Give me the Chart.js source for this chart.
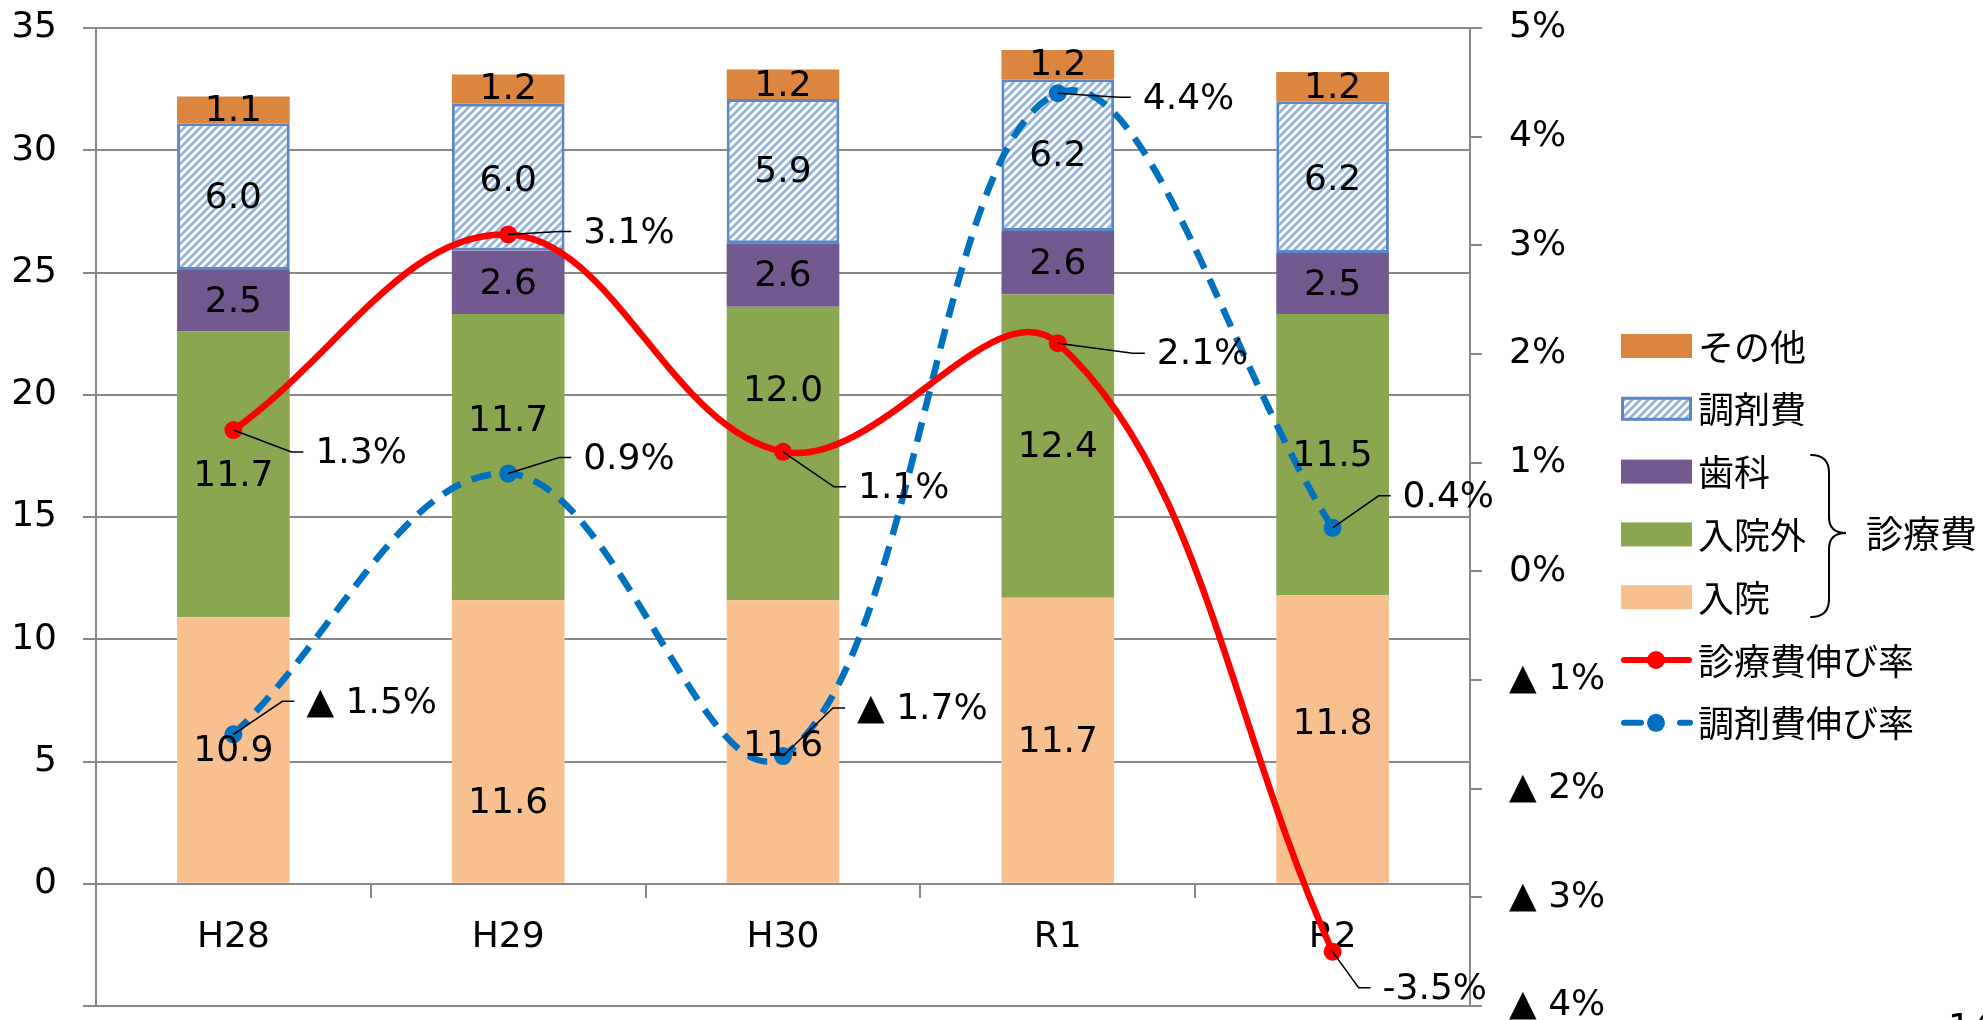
<!DOCTYPE html>
<html>
<head>
<meta charset="utf-8">
<script src="https://cdn.jsdelivr.net/npm/chart.js@4/dist/chart.umd.min.js"></script>
<style>
  html, body { margin: 0; padding: 0; background: #fff; }
  #wrap { width: 1983px; height: 1020px; position: relative; }
</style>
</head>
<body>
<div id="wrap"><canvas id="c" width="1983" height="1020"></canvas></div>
<script>
// 年度
const years = ['H28', 'H29', 'H30', 'R1', 'R2'];

// 医療費の内訳（兆円）
const nyuin    = [10.9, 11.6, 11.6, 11.7, 11.8];   // 入院
const nyuingai = [11.7, 11.7, 12.0, 12.4, 11.5];   // 入院外
const shika    = [2.5, 2.6, 2.6, 2.6, 2.5];        // 歯科
const chozai   = [6.0, 6.0, 5.9, 6.2, 6.2];        // 調剤費
const sonota   = [1.1, 1.2, 1.2, 1.2, 1.2];        // その他

// 伸び率（％）
const shinryoRate = [1.3, 3.1, 1.1, 2.1, -3.5];    // 診療費伸び率
const chozaiRate  = [-1.5, 0.9, -1.7, 4.4, 0.4];   // 調剤費伸び率

// 軸の範囲
const amountAxis = { min: -5, max: 35, step: 5 };
const rateAxis   = { min: -4, max: 5, step: 1 };

// ---- styles -------------------------------------------------------------
const NUM_FONT = '36px "DejaVu Sans", "Noto Sans CJK JP", sans-serif';
const JP_FONT  = '36px "Noto Sans CJK JP", "DejaVu Sans", sans-serif';
const GRID = '#898989';

// vertical nudges (px) for the stacked segment labels, per series
const segNudge = [
  [2, 62, 5, 2, -14],   // 入院
  [2, -35, -62, 2, 2],  // 入院外
  [2, 2, 2, 2, 2],      // 歯科
  [2, 4, 2, 2, 3],      // 調剤費
  [2, 1, 2, 1, 2]       // その他
];
// label placement for rate points: [dx to text start, dy to text centre]
const rateLabelPos = [
  [[82, 22], [75, -3], [75, 35], [99, 10], [50, 36]],
  [[73, -33], [75, -16], [74, -48], [85, 4], [70, -32]]
];
// which points print a minus sign instead of the triangle mark
const minusNotation = [[4], []];

function hatchPattern() {
  const c = document.createElement('canvas');
  c.width = 8; c.height = 8;
  const g = c.getContext('2d');
  g.fillStyle = '#ffffff';
  g.fillRect(0, 0, 8, 8);
  g.strokeStyle = '#96B4DC';
  g.lineWidth = 2.8;
  g.beginPath();
  g.moveTo(-2, 10); g.lineTo(10, -2);
  g.moveTo(-2, 2); g.lineTo(2, -2);
  g.moveTo(6, 10); g.lineTo(10, 6);
  g.stroke();
  return g.createPattern(c, 'repeat');
}
const hatch = hatchPattern();

function rateText(v, series, idx) {
  if (v < 0) {
    return minusNotation[series].includes(idx) ? '-' + Math.abs(v).toFixed(1) + '%'
                                              : '▲ ' + Math.abs(v).toFixed(1) + '%';
  }
  return v.toFixed(1) + '%';
}

// data labels inside the bars and beside the rate points
const labelPlugin = {
  id: 'valueLabels',
  afterDatasetsDraw(chart) {
    const ctx = chart.ctx;
    ctx.save();
    ctx.fillStyle = '#000';
    ctx.font = NUM_FONT;
    ctx.textAlign = 'center';
    ctx.textBaseline = 'middle';
    for (let d = 0; d < 5; d++) {
      const meta = chart.getDatasetMeta(d);
      const vals = chart.data.datasets[d].data;
      meta.data.forEach((el, i) => {
        const cy = (el.y + el.base) / 2 + segNudge[d][i];
        ctx.fillText(vals[i].toFixed(1), el.x, cy);
      });
    }
    ctx.textAlign = 'left';
    for (let s = 0; s < 2; s++) {
      const d = 5 + s;
      const meta = chart.getDatasetMeta(d);
      const vals = chart.data.datasets[d].data;
      meta.data.forEach((el, i) => {
        const [dx, dy] = rateLabelPos[s][i];
        const tx = el.x + dx, ty = el.y + dy;
        ctx.strokeStyle = '#000';
        ctx.lineWidth = 1.5;
        ctx.beginPath();
        ctx.moveTo(el.x, el.y);
        ctx.lineTo(tx - 24, ty);
        ctx.lineTo(tx - 12, ty);
        ctx.stroke();
        ctx.fillText(rateText(vals[i], s, i), tx, ty + 2);
      });
    }
    ctx.restore();
  }
};

// legend with the brace grouping the 診療費 items
const legendPlugin = {
  id: 'sideLegend',
  afterDraw(chart) {
    const ctx = chart.ctx;
    const ds = chart.data.datasets;
    const order = [4, 3, 2, 1, 0, 5, 6];
    const x0 = 1621, w = 71, top = 346, step = 62.8;
    ctx.save();
    order.forEach((d, k) => {
      const set = ds[d];
      const cy = top + k * step;
      if (set.type === 'line') {
        ctx.strokeStyle = set.borderColor;
        ctx.lineWidth = 6;
        ctx.lineCap = 'round';
        ctx.setLineDash([]);
        ctx.beginPath();
        if (set.borderDash) {
          ctx.moveTo(x0 + 3, cy); ctx.lineTo(x0 + 20, cy);
          ctx.moveTo(x0 + 59, cy); ctx.lineTo(x0 + 69, cy);
        } else {
          ctx.moveTo(x0 + 3, cy); ctx.lineTo(x0 + w - 3, cy);
        }
        ctx.stroke();
        ctx.fillStyle = set.pointBackgroundColor;
        ctx.beginPath();
        ctx.arc(x0 + 35, cy, 9, 0, Math.PI * 2);
        ctx.fill();
      } else {
        ctx.fillStyle = set.backgroundColor;
        ctx.fillRect(x0, cy - 12, w, 24);
        if (set.borderWidth) {
          ctx.strokeStyle = set.borderColor;
          ctx.lineWidth = 3;
          ctx.strokeRect(x0 + 1.5, cy - 10.5, w - 3, 21);
        }
      }
      ctx.fillStyle = '#000';
      ctx.font = JP_FONT;
      ctx.textAlign = 'left';
      ctx.textBaseline = 'middle';
      ctx.fillText(set.label, 1698, cy + 1);
    });
    // brace
    ctx.strokeStyle = '#000';
    ctx.lineWidth = 2;
    ctx.setLineDash([]);
    ctx.beginPath();
    ctx.moveTo(1811, 455);
    ctx.quadraticCurveTo(1829, 455, 1829, 473);
    ctx.lineTo(1829, 517);
    ctx.quadraticCurveTo(1829, 533, 1846, 533);
    ctx.quadraticCurveTo(1829, 533, 1829, 549);
    ctx.lineTo(1829, 599);
    ctx.quadraticCurveTo(1829, 617, 1811, 617);
    ctx.stroke();
    ctx.fillStyle = '#000';
    ctx.font = '37px "Noto Sans CJK JP", sans-serif';
    ctx.textBaseline = 'middle';
    ctx.fillText('診療費', 1866, 534);
    // page number
    ctx.font = NUM_FONT;
    ctx.textBaseline = 'top';
    ctx.fillText('14', 1948, 1012);
    ctx.restore();
  }
};

const barBase = { type: 'bar', order: 1, borderWidth: 0, categoryPercentage: 1, barPercentage: 0.41 };

new Chart(document.getElementById('c'), {
  data: {
    labels: years,
    datasets: [
      { ...barBase, label: '入院',   data: nyuin,    backgroundColor: '#F9C08F' },
      { ...barBase, label: '入院外', data: nyuingai, backgroundColor: '#8AA650' },
      { ...barBase, label: '歯科',   data: shika,    backgroundColor: '#725A90' },
      { ...barBase, label: '調剤費', data: chozai,   backgroundColor: hatch,
        borderColor: '#5A87C4', borderWidth: 3, borderSkipped: false },
      { ...barBase, label: 'その他', data: sonota,   backgroundColor: '#DC853F' },
      { type: 'line', label: '診療費伸び率', data: shinryoRate, yAxisID: 'y1', order: 0,
        borderColor: '#FF0000', borderWidth: 6.5, tension: 0.38,
        pointRadius: 9, pointBackgroundColor: '#FF0000', pointBorderWidth: 0 },
      { type: 'line', label: '調剤費伸び率', data: chozaiRate, yAxisID: 'y1', order: 0,
        borderColor: '#0070C0', borderWidth: 6.5, borderDash: [20, 12], tension: 0.38,
        pointRadius: 9, pointBackgroundColor: '#0070C0', pointBorderWidth: 0 }
    ]
  },
  options: {
    responsive: false,
    animation: false,
    devicePixelRatio: 1,
    layout: { padding: { top: 28, bottom: 14, left: 0, right: 0 } },
    plugins: { legend: { display: false }, tooltip: { enabled: false } },
    scales: {
      x: {
        type: 'category',
        stacked: true,
        position: { y: 0 },
        grid: { drawOnChartArea: false, offset: true, tickLength: 13, color: GRID, lineWidth: 2 },
        border: { display: true, color: GRID, width: 2 },
        ticks: { color: '#000', font: { family: '"DejaVu Sans"', size: 36 }, padding: 19, maxRotation: 0 },
        afterFit(s) { s.paddingLeft = 0; s.paddingRight = 0; }
      },
      y: {
        stacked: true,
        position: 'left',
        min: amountAxis.min, max: amountAxis.max,
        ticks: {
          stepSize: amountAxis.step, color: '#000', padding: 26,
          font: { family: '"DejaVu Sans"', size: 36 },
          callback: v => (v < 0 ? '' : String(v))
        },
        grid: { color: GRID, lineWidth: 2, tickLength: 13 },
        border: { display: true, color: GRID, width: 2 },
        afterFit(s) { s.width = 96; s.paddingTop = 0; s.paddingBottom = 0; }
      },
      y1: {
        position: 'right',
        min: rateAxis.min, max: rateAxis.max,
        ticks: {
          stepSize: rateAxis.step, color: '#000', padding: 27,
          font: { family: '"DejaVu Sans"', size: 36 },
          callback: v => (v < 0 ? '▲ ' + Math.abs(v) + '%' : v + '%')
        },
        grid: { drawOnChartArea: false, color: GRID, lineWidth: 2, tickLength: 12 },
        border: { display: true, color: GRID, width: 2 },
        afterFit(s) { s.width = 513; s.paddingTop = 0; s.paddingBottom = 0; }
      }
    }
  },
  plugins: [labelPlugin, legendPlugin]
});
</script>
</body>
</html>
